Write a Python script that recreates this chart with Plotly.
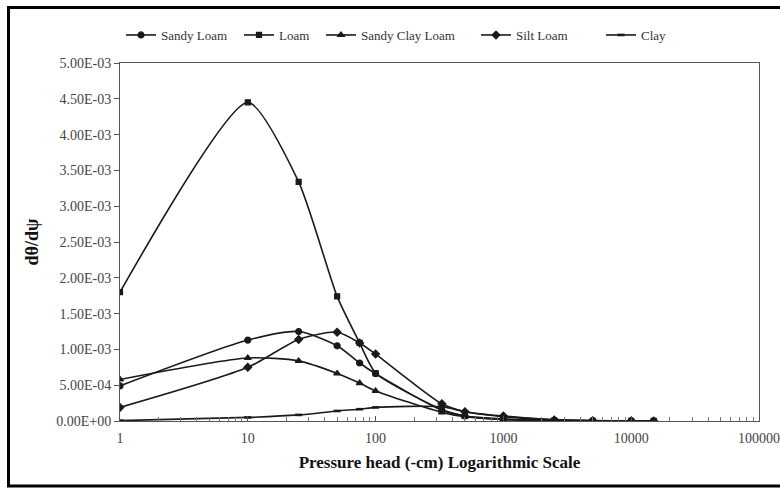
import plotly.graph_objects as go

pressure = [1, 10, 25, 50, 75, 100, 330, 500, 1000, 2500, 5000, 10000, 15000]
sandy_loam = [0.49e-3, 1.13e-3, 1.25e-3, 1.05e-3, 0.81e-3, 0.66e-3, 0.15e-3, 0.07e-3, 0.03e-3, 0.01e-3, 0.003e-3, 0.001e-3, 0.0005e-3]
loam = [1.80e-3, 4.45e-3, 3.34e-3, 1.74e-3, 1.09e-3, 0.67e-3, 0.16e-3, 0.07e-3, 0.02e-3, 0.005e-3, 0.002e-3, 0.001e-3, 0.0005e-3]
sandy_clay_loam = [0.58e-3, 0.88e-3, 0.84e-3, 0.665e-3, 0.53e-3, 0.42e-3, 0.12e-3, 0.06e-3, 0.02e-3, 0.005e-3, 0.002e-3, 0.001e-3, 0.0005e-3]
silt_loam = [0.19e-3, 0.75e-3, 1.14e-3, 1.24e-3, 1.09e-3, 0.935e-3, 0.24e-3, 0.13e-3, 0.07e-3, 0.015e-3, 0.004e-3, 0.001e-3, 0.0005e-3]
clay = [0.005e-3, 0.05e-3, 0.085e-3, 0.14e-3, 0.165e-3, 0.19e-3, 0.2e-3, 0.13e-3, 0.06e-3, 0.02e-3, 0.006e-3, 0.002e-3, 0.001e-3]

y_tickvals = [0, 0.5e-3, 1.0e-3, 1.5e-3, 2.0e-3, 2.5e-3, 3.0e-3, 3.5e-3, 4.0e-3, 4.5e-3, 5.0e-3]
y_ticktext = ["0.00E+00", "5.00E-04", "1.00E-03", "1.50E-03", "2.00E-03", "2.50E-03",
              "3.00E-03", "3.50E-03", "4.00E-03", "4.50E-03", "5.00E-03"]
x_tickvals = [1, 10, 100, 1000, 10000, 100000]
x_ticktext = ["1", "10", "100", "1000", "10000", "100000"]
x_minor = [m * d for d in [1, 10, 100, 1000, 10000] for m in range(2, 10)]

series = [
    ("Sandy Loam", sandy_loam, "circle", 6, 1.2, 0.7),
    ("Loam", loam, "square", 5, 1.2, 0.6),
    ("Sandy Clay Loam", sandy_clay_loam, "triangle-up", 6, 1.2, 0.7),
    ("Silt Loam", silt_loam, "diamond", 6, 1.2, 0.7),
    ("Clay", clay, "line-ew", 5, 2.6, 0.7),
]
# x where each legend line starts in the reference
legend_line_px = [127, 245, 327, 482, 607]

FONT = "Liberation Serif, Times New Roman, serif"
LC = "#1a1a1a"
W, H = 780, 489
L, T = 120, 63
R = W - 759
B = H - 421
PW = W - L - R
PH = H - T - B


def px_x(p):
    return (p - L) / PW


def px_y(p):
    return (T + PH - p) / PH


fig = go.Figure()
layout_legends = {}
for i, (name, vals, sym, sz, mlw, smooth) in enumerate(series):
    key = "legend" if i == 0 else f"legend{i + 1}"
    fig.add_trace(go.Scatter(
        x=pressure, y=vals, name=name, mode="lines+markers",
        line=dict(color=LC, width=1.6, shape="spline", smoothing=smooth),
        marker=dict(symbol=sym, size=sz, color=LC, line=dict(color=LC, width=mlw)),
        legend=key,
    ))
    layout_legends[key] = dict(
        orientation="h", x=px_x(legend_line_px[i] - 6), xanchor="left",
        y=px_y(35), yanchor="middle",
        font=dict(family=FONT, size=13, color="#333"),
        bgcolor="rgba(0,0,0,0)", borderwidth=0,
    )

fig.update_layout(
    width=W, height=H,
    margin=dict(l=L, r=R, t=T, b=B, autoexpand=False),
    paper_bgcolor="white", plot_bgcolor="white",
    font=dict(family=FONT, size=13, color="#333"),
    showlegend=True,
    shapes=[dict(type="rect", xref="paper", yref="paper",
                 x0=px_x(8.5), x1=px_x(W + 6), y0=px_y(486), y1=px_y(7.5),
                 line=dict(color="black", width=3), fillcolor="rgba(0,0,0,0)", layer="below")],
    **layout_legends,
)

fig.update_xaxes(
    type="log", range=[0, 5], automargin=False,
    tickvals=x_tickvals, ticktext=x_ticktext,
    showgrid=False, zeroline=False,
    showline=True, linecolor="#555", linewidth=1, mirror=True,
    ticks="inside", ticklen=5, tickcolor="#555", ticklabelstandoff=4,
    minor=dict(tickvals=x_minor, ticks="inside", ticklen=4, tickcolor="#777", showgrid=False),
    tickfont=dict(family=FONT, size=14, color="#444"),
    title=dict(text="<b>Pressure head (-cm) Logarithmic Scale</b>",
               font=dict(family=FONT, size=17, color="#111"), standoff=11),
)
fig.update_yaxes(
    range=[0, 5.0e-3], automargin=False,
    tickvals=y_tickvals, ticktext=y_ticktext,
    showgrid=False, zeroline=False,
    showline=True, linecolor="#555", linewidth=1, mirror=True,
    ticks="outside", ticklen=5, tickcolor="#555",
    tickfont=dict(family=FONT, size=14, color="#444"),
    title=dict(text="<b>dθ/dψ</b>", font=dict(family=FONT, size=18, color="#111"), standoff=12),
)

fig.write_html(
    "out.html",
    config={"displayModeBar": False},
    post_script="document.body.style.margin='0';document.body.style.overflow='hidden';",
)
